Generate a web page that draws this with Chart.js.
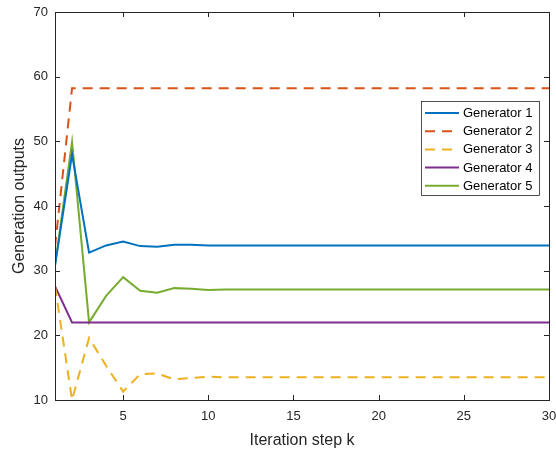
<!DOCTYPE html>
<html>
<head>
  <meta charset="utf-8">
  <title>Generation outputs</title>
  <script src="https://cdn.jsdelivr.net/npm/chart.js"></script>
  <style>
    body { margin: 0; background: #ffffff; }
    #wrap { width: 556px; height: 452px; }
  </style>
</head>
<body>
  <div id="wrap"><canvas id="chart" width="556" height="452"></canvas></div>

  <script>
    // iteration steps
    const steps = [1, 2, 3, 4, 5, 6, 7, 8, 9, 10, 11, 12, 13, 14, 15,
                   16, 17, 18, 19, 20, 21, 22, 23, 24, 25, 26, 27, 28, 29, 30];

    // generator outputs
    const gen1 = [30.8, 48.0, 32.8, 33.9, 34.5, 33.8, 33.7, 34.0, 34.0, 33.9, 33.9, 33.9, 33.9, 33.9, 33.9,
                  33.9, 33.9, 33.9, 33.9, 33.9, 33.9, 33.9, 33.9, 33.9, 33.9, 33.9, 33.9, 33.9, 33.9, 33.9];
    const gen2 = [33.7, 58.2, 58.2, 58.2, 58.2, 58.2, 58.2, 58.2, 58.2, 58.2, 58.2, 58.2, 58.2, 58.2, 58.2,
                  58.2, 58.2, 58.2, 58.2, 58.2, 58.2, 58.2, 58.2, 58.2, 58.2, 58.2, 58.2, 58.2, 58.2, 58.2];
    const gen3 = [27.6, 10.0, 19.6, 15.3, 11.3, 14.0, 14.1, 13.2, 13.4, 13.6, 13.5, 13.5, 13.5, 13.5, 13.5,
                  13.5, 13.5, 13.5, 13.5, 13.5, 13.5, 13.5, 13.5, 13.5, 13.5, 13.5, 13.5, 13.5, 13.5, 13.5];
    const gen4 = [27.6, 22.0, 22.0, 22.0, 22.0, 22.0, 22.0, 22.0, 22.0, 22.0, 22.0, 22.0, 22.0, 22.0, 22.0,
                  22.0, 22.0, 22.0, 22.0, 22.0, 22.0, 22.0, 22.0, 22.0, 22.0, 22.0, 22.0, 22.0, 22.0, 22.0];
    const gen5 = [30.8, 49.9, 22.0, 26.1, 29.0, 26.9, 26.6, 27.3, 27.2, 27.0, 27.1, 27.1, 27.1, 27.1, 27.1,
                  27.1, 27.1, 27.1, 27.1, 27.1, 27.1, 27.1, 27.1, 27.1, 27.1, 27.1, 27.1, 27.1, 27.1, 27.1];

    const seriesNames = ['Generator 1', 'Generator 2', 'Generator 3', 'Generator 4', 'Generator 5'];
    const xTicks = [5, 10, 15, 20, 25, 30];
    const yTicks = [10, 20, 30, 40, 50, 60, 70];

    const colors = ['#0072BD', '#D95319', '#EDB120', '#7E2F8E', '#77AC30'];
    const dashes = [[], [10, 7], [10, 7], [], []];
    const axisColor = '#262626';
    const fontFamily = 'Arial, "Liberation Sans", Helvetica, sans-serif';

    const toPoints = vals => vals.map((v, i) => ({ x: steps[i], y: v }));
    const datasets = [gen1, gen2, gen3, gen4, gen5].map((vals, i) => ({
      label: seriesNames[i],
      data: toPoints(vals),
      borderColor: colors[i],
      backgroundColor: colors[i],
      borderWidth: 2,
      borderDash: dashes[i],
      pointRadius: 0,
      tension: 0,
      fill: false
    }));

    // box around the plot plus inward ticks on all four sides (MATLAB look)
    const boxPlugin = {
      id: 'box',
      afterDatasetsDraw(chart) {
        const { ctx, chartArea: a, scales } = chart;
        ctx.save();
        ctx.strokeStyle = axisColor;
        ctx.lineWidth = 1;
        ctx.strokeRect(Math.round(a.left) + 0.5, Math.round(a.top) + 0.5,
                       Math.round(a.right - a.left), Math.round(a.bottom - a.top));
        ctx.beginPath();
        xTicks.forEach(v => {
          const px = Math.round(scales.x.getPixelForValue(v)) + 0.5;
          ctx.moveTo(px, a.bottom); ctx.lineTo(px, a.bottom - 5);
          ctx.moveTo(px, a.top); ctx.lineTo(px, a.top + 5);
        });
        yTicks.forEach(v => {
          const py = Math.round(scales.y.getPixelForValue(v)) + 0.5;
          ctx.moveTo(a.left, py); ctx.lineTo(a.left + 5, py);
          ctx.moveTo(a.right, py); ctx.lineTo(a.right - 5, py);
        });
        ctx.stroke();
        ctx.restore();
      }
    };

    // legend box in the upper right of the plot
    const legendPlugin = {
      id: 'boxLegend',
      afterDraw(chart) {
        const { ctx } = chart;
        const x0 = 421, y0 = 101, w = 118, h = 94, rowH = 18.2;
        ctx.save();
        ctx.fillStyle = '#ffffff';
        ctx.fillRect(x0, y0, w, h);
        ctx.strokeStyle = axisColor;
        ctx.lineWidth = 0.8;
        ctx.strokeRect(x0 + 0.5, y0 + 0.5, w, h);
        chart.data.datasets.forEach((ds, i) => {
          const y = y0 + 12 + i * rowH;
          ctx.strokeStyle = ds.borderColor;
          ctx.lineWidth = 2;
          ctx.setLineDash(ds.borderDash);
          ctx.beginPath();
          ctx.moveTo(x0 + 4, y);
          ctx.lineTo(x0 + 38, y);
          ctx.stroke();
          ctx.setLineDash([]);
          ctx.fillStyle = '#000000';
          ctx.font = '13px ' + fontFamily;
          ctx.textBaseline = 'middle';
          ctx.fillText(ds.label, x0 + 42, y + 0.5);
        });
        ctx.restore();
      }
    };

    new Chart(document.getElementById('chart'), {
      type: 'line',
      data: { datasets },
      plugins: [boxPlugin, legendPlugin],
      options: {
        responsive: false,
        animation: false,
        layout: { padding: { top: 12, right: 7, left: 0, bottom: 0 } },
        plugins: { legend: { display: false }, tooltip: { enabled: false } },
        scales: {
          x: {
            type: 'linear',
            min: 1,
            max: 30,
            afterBuildTicks: s => { s.ticks = xTicks.map(v => ({ value: v })); },
            afterFit: s => { s.height = 52; s.paddingLeft = 0; s.paddingRight = 0; },
            grid: { drawOnChartArea: false, drawTicks: false },
            border: { display: false },
            ticks: { color: axisColor, padding: 9, maxRotation: 0, font: { size: 13, family: fontFamily } },
            title: { display: true, text: 'Iteration step k', color: axisColor,
                     padding: { top: 0, bottom: 2 }, font: { size: 16, family: fontFamily } }
          },
          y: {
            min: 10,
            max: 70,
            afterBuildTicks: s => { s.ticks = yTicks.map(v => ({ value: v })); },
            afterFit: s => { s.width = 55; s.paddingTop = 0; s.paddingBottom = 0; },
            grid: { drawOnChartArea: false, drawTicks: false },
            border: { display: false },
            ticks: { color: axisColor, padding: 7, font: { size: 13, family: fontFamily } },
            title: { display: true, text: 'Generation outputs', color: axisColor,
                     padding: { top: 10, bottom: 0 }, font: { size: 16, family: fontFamily } }
          }
        }
      }
    });
  </script>
</body>
</html>
